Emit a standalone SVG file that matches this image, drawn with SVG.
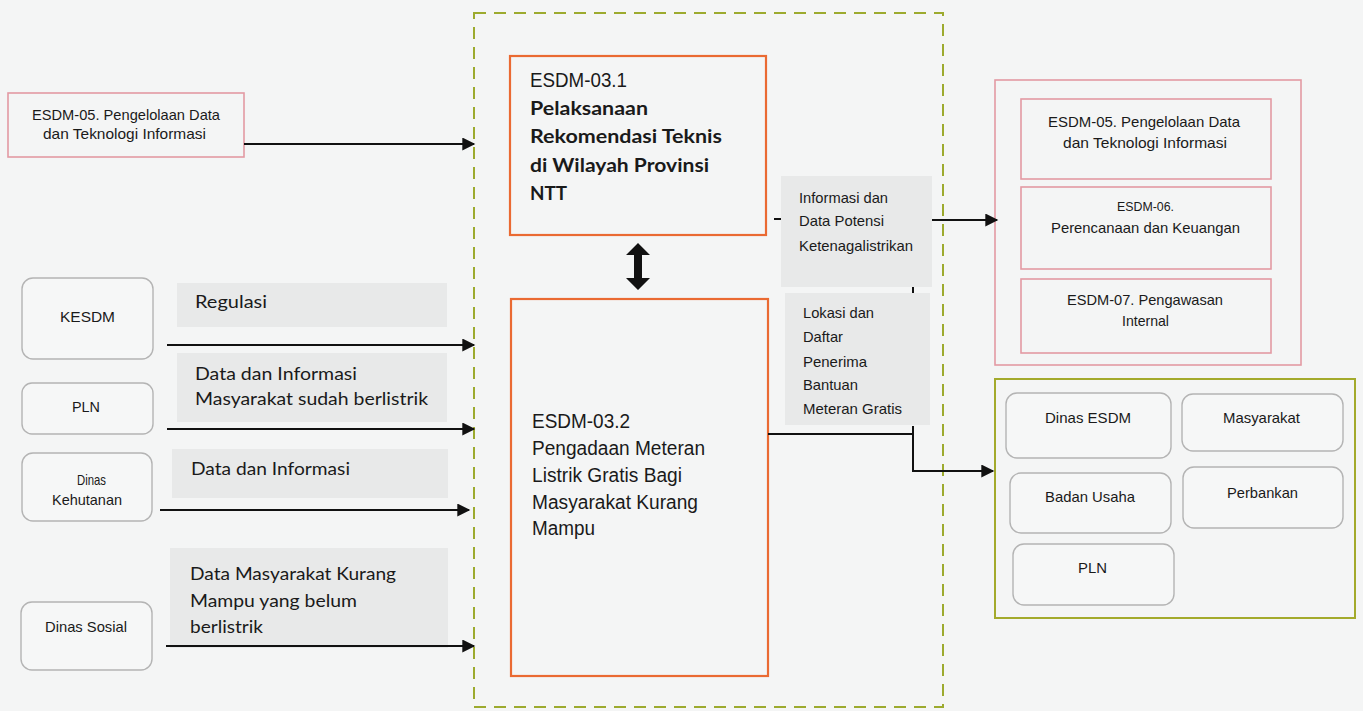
<svg xmlns="http://www.w3.org/2000/svg" width="1363" height="711" viewBox="0 0 1363 711">
<style>
.n{font-family:"Liberation Sans",Arial,sans-serif;fill:#1a1a1a}
.c{font-family:Lato,"Open Sans",sans-serif;fill:#1a1a1a}
.cb{font-family:Lato,"Open Sans",sans-serif;font-weight:bold;fill:#1a1a1a}
.lbl{fill:#e8e9e9}
.pink{fill:none;stroke:#e39aa3;stroke-width:1.6}
.org{fill:none;stroke:#ea6a32;stroke-width:2.2}
.rnd{fill:#f6f7f7;stroke:#b4b4b4;stroke-width:1.4}
.con{fill:none;stroke:#111;stroke-width:2}
</style>
<defs>
<marker id="ah" viewBox="0 0 10 10" refX="9" refY="5" markerWidth="7" markerHeight="6.5" markerUnits="strokeWidth" orient="auto">
<path d="M0,0 L10,5 L0,10 z" fill="#111"/>
</marker>
</defs>
<rect x="0" y="0" width="1363" height="711" fill="#f4f5f5"/>

<g id="container">
<rect x="474" y="13" width="469" height="694" fill="none" stroke="#9caa2e" stroke-width="2" stroke-dasharray="12,8"/>
</g>

<g id="src-esdm05">
<rect x="8" y="93" width="236" height="64" class="pink"/>
<text class="n" font-size="15" x="32" y="120" textLength="188" lengthAdjust="spacingAndGlyphs">ESDM-05. Pengelolaan Data</text>
<text class="n" font-size="15" x="43" y="139" textLength="163" lengthAdjust="spacingAndGlyphs">dan  Teknologi Informasi</text>
</g>

<g id="kesdm">
<rect x="22" y="278" width="131" height="81" rx="11" class="rnd"/>
<text class="n" font-size="15" x="60" y="322" textLength="55" lengthAdjust="spacingAndGlyphs">KESDM</text>
</g>
<g id="pln-left">
<rect x="22" y="383" width="131" height="51" rx="10" class="rnd"/>
<text class="n" font-size="15" x="72" y="412" textLength="28" lengthAdjust="spacingAndGlyphs">PLN</text>
</g>
<g id="dinas-kehutanan">
<rect x="22" y="453" width="130" height="68" rx="11" class="rnd"/>
<text class="n" font-size="15" x="77" y="485" textLength="29" lengthAdjust="spacingAndGlyphs">Dinas</text>
<text class="n" font-size="15" x="52" y="505" textLength="70" lengthAdjust="spacingAndGlyphs">Kehutanan</text>
</g>
<g id="dinas-sosial">
<rect x="21" y="602" width="131" height="68" rx="11" class="rnd"/>
<text class="n" font-size="15" x="45" y="632" textLength="82" lengthAdjust="spacingAndGlyphs">Dinas Sosial</text>
</g>

<g id="label-regulasi">
<rect x="177" y="283" width="270" height="44" class="lbl"/>
<text class="c" font-size="17" x="195" y="308" textLength="72" lengthAdjust="spacingAndGlyphs">Regulasi</text>
</g>
<g id="label-pln">
<rect x="177" y="353" width="270" height="69" class="lbl"/>
<text class="c" font-size="17" x="195" y="380" textLength="162" lengthAdjust="spacingAndGlyphs">Data dan Informasi</text>
<text class="c" font-size="17" x="195" y="405" textLength="233" lengthAdjust="spacingAndGlyphs">Masyarakat sudah berlistrik</text>
</g>
<g id="label-kehutanan">
<rect x="172" y="449" width="276" height="49" class="lbl"/>
<text class="c" font-size="17" x="191" y="475" textLength="159" lengthAdjust="spacingAndGlyphs">Data dan Informasi</text>
</g>
<g id="label-sosial">
<rect x="170" y="548" width="278" height="100" class="lbl"/>
<text class="c" font-size="17" x="190" y="580" textLength="206" lengthAdjust="spacingAndGlyphs">Data Masyarakat Kurang</text>
<text class="c" font-size="17" x="190" y="607" textLength="167" lengthAdjust="spacingAndGlyphs">Mampu yang belum</text>
<text class="c" font-size="17" x="190" y="633" textLength="73" lengthAdjust="spacingAndGlyphs">berlistrik</text>
</g>

<g id="esdm-03-1">
<rect x="510" y="56" width="256" height="179" class="org"/>
<text class="n" font-size="20" x="530" y="87" textLength="97" lengthAdjust="spacingAndGlyphs">ESDM-03.1</text>
<text class="cb" font-size="18" x="530" y="115" textLength="118" lengthAdjust="spacingAndGlyphs">Pelaksanaan</text>
<text class="cb" font-size="18" x="530" y="143" textLength="192" lengthAdjust="spacingAndGlyphs">Rekomendasi Teknis</text>
<text class="cb" font-size="18" x="530" y="172" textLength="179" lengthAdjust="spacingAndGlyphs">di Wilayah Provinsi</text>
<text class="cb" font-size="18" x="530" y="200" textLength="37" lengthAdjust="spacingAndGlyphs">NTT</text>
</g>

<g id="esdm-03-2">
<rect x="511" y="299" width="257" height="377" class="org"/>
<text class="n" font-size="20" x="532" y="428" textLength="98" lengthAdjust="spacingAndGlyphs">ESDM-03.2</text>
<text class="n" font-size="20" x="532" y="455" textLength="173" lengthAdjust="spacingAndGlyphs">Pengadaan Meteran</text>
<text class="n" font-size="20" x="532" y="482" textLength="150" lengthAdjust="spacingAndGlyphs">Listrik Gratis Bagi</text>
<text class="n" font-size="20" x="532" y="509" textLength="166" lengthAdjust="spacingAndGlyphs">Masyarakat Kurang</text>
<text class="n" font-size="20" x="532" y="535" textLength="63" lengthAdjust="spacingAndGlyphs">Mampu</text>
</g>

<g id="label-informasi">
<rect x="781" y="176" width="151" height="111" class="lbl"/>
<text class="n" font-size="15" x="799" y="203" textLength="89" lengthAdjust="spacingAndGlyphs">Informasi dan</text>
<text class="n" font-size="15" x="799" y="226" textLength="85" lengthAdjust="spacingAndGlyphs">Data Potensi</text>
<text class="n" font-size="15" x="799" y="251" textLength="114" lengthAdjust="spacingAndGlyphs">Ketenagalistrikan</text>
</g>
<g id="label-lokasi">
<rect x="785" y="293" width="145" height="132" class="lbl"/>
<text class="n" font-size="15" x="803" y="318" textLength="71" lengthAdjust="spacingAndGlyphs">Lokasi dan</text>
<text class="n" font-size="15" x="803" y="342" textLength="40" lengthAdjust="spacingAndGlyphs">Daftar</text>
<text class="n" font-size="15" x="803" y="367" textLength="64" lengthAdjust="spacingAndGlyphs">Penerima</text>
<text class="n" font-size="15" x="803" y="390" textLength="55" lengthAdjust="spacingAndGlyphs">Bantuan</text>
<text class="n" font-size="15" x="803" y="414" textLength="99" lengthAdjust="spacingAndGlyphs">Meteran Gratis</text>
</g>

<g id="internal-group">
<rect x="995" y="80" width="306" height="285" class="pink"/>
</g>
<g id="dst-esdm05">
<rect x="1021" y="99" width="250" height="80" class="pink"/>
<text class="n" font-size="15" x="1048" y="127" textLength="192" lengthAdjust="spacingAndGlyphs">ESDM-05. Pengelolaan Data</text>
<text class="n" font-size="15" x="1063" y="148" textLength="164" lengthAdjust="spacingAndGlyphs">dan  Teknologi Informasi</text>
</g>
<g id="dst-esdm06">
<rect x="1021" y="187" width="250" height="82" class="pink"/>
<text class="n" font-size="13" x="1117" y="211" textLength="57" lengthAdjust="spacingAndGlyphs">ESDM-06.</text>
<text class="n" font-size="15" x="1051" y="233" textLength="189" lengthAdjust="spacingAndGlyphs">Perencanaan dan Keuangan</text>
</g>
<g id="dst-esdm07">
<rect x="1021" y="279" width="250" height="74" class="pink"/>
<text class="n" font-size="15" x="1067" y="305" textLength="156" lengthAdjust="spacingAndGlyphs">ESDM-07. Pengawasan</text>
<text class="n" font-size="15" x="1122" y="326" textLength="47" lengthAdjust="spacingAndGlyphs">Internal</text>
</g>

<g id="external-group">
<rect x="995" y="379" width="360" height="239" fill="none" stroke="#a3aa2c" stroke-width="2"/>
</g>
<g id="dinas-esdm">
<rect x="1006" y="393" width="165" height="65" rx="11" class="rnd"/>
<text class="n" font-size="15" x="1045" y="423" textLength="86" lengthAdjust="spacingAndGlyphs">Dinas ESDM</text>
</g>
<g id="masyarakat">
<rect x="1182" y="394" width="161" height="57" rx="11" class="rnd"/>
<text class="n" font-size="15" x="1223" y="423" textLength="77" lengthAdjust="spacingAndGlyphs">Masyarakat</text>
</g>
<g id="badan-usaha">
<rect x="1010" y="473" width="161" height="60" rx="11" class="rnd"/>
<text class="n" font-size="15" x="1045" y="502" textLength="90" lengthAdjust="spacingAndGlyphs">Badan Usaha</text>
</g>
<g id="perbankan">
<rect x="1183" y="467" width="160" height="61" rx="11" class="rnd"/>
<text class="n" font-size="15" x="1227" y="498" textLength="71" lengthAdjust="spacingAndGlyphs">Perbankan</text>
</g>
<g id="pln-right">
<rect x="1013" y="544" width="161" height="61" rx="11" class="rnd"/>
<text class="n" font-size="15" x="1078" y="573" textLength="29" lengthAdjust="spacingAndGlyphs">PLN</text>
</g>

<g id="connectors">
<line x1="244" y1="144" x2="474" y2="144" class="con" marker-end="url(#ah)"/>
<line x1="167" y1="345" x2="474" y2="345" class="con" marker-end="url(#ah)"/>
<line x1="167" y1="429" x2="474" y2="429" class="con" marker-end="url(#ah)"/>
<line x1="160" y1="510" x2="469" y2="510" class="con" marker-end="url(#ah)"/>
<line x1="166" y1="646" x2="474" y2="646" class="con" marker-end="url(#ah)"/>
<line x1="774" y1="219" x2="781" y2="219" class="con"/>
<line x1="932" y1="220" x2="997" y2="220" class="con" marker-end="url(#ah)"/>
<line x1="913" y1="287" x2="913" y2="293" class="con"/>
<polyline points="768,434 913,434" class="con"/>
<polyline points="913,426 913,471 993,471" class="con" marker-end="url(#ah)"/>
<path d="M638,243 L650,255 L642,255 L642,278 L650,278 L638,290 L626,278 L634,278 L634,255 L626,255 Z" fill="#111"/>
</g>
</svg>
